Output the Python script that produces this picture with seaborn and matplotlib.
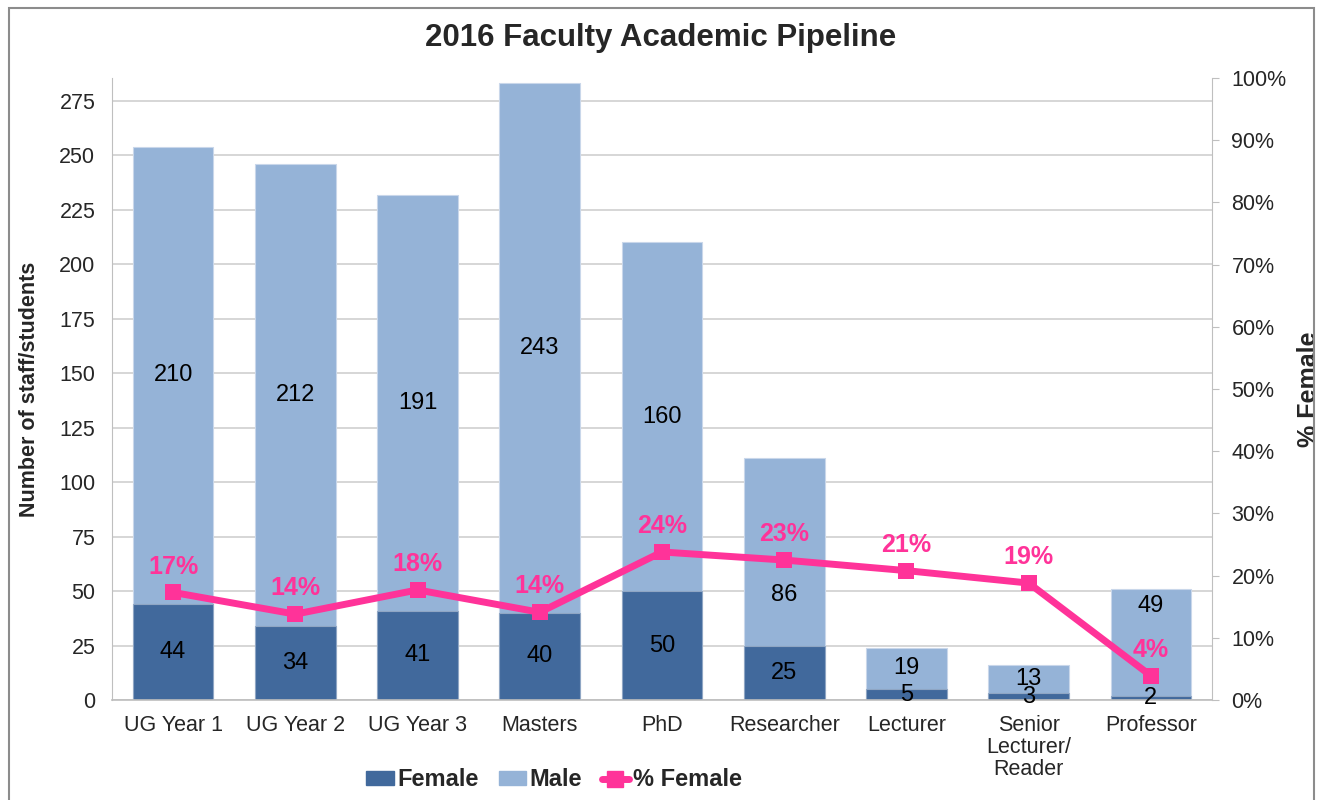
import numpy as np
import pandas as pd
import matplotlib
matplotlib.use('Agg')
import matplotlib.pyplot as plt
from matplotlib.patches import Rectangle, Patch
from matplotlib.lines import Line2D
from matplotlib.ticker import PercentFormatter
import seaborn as sns

# Dados
categorias = ['UG Year 1', 'UG Year 2', 'UG Year 3', 'Masters', 'PhD',
              'Researcher', 'Lecturer', 'Senior\nLecturer/\nReader', 'Professor']
feminino = [44, 34, 41, 40, 50, 25, 5, 3, 2]
masculino = [210, 212, 191, 243, 160, 86, 19, 13, 49]
pct_feminino = [17.3, 13.8, 17.7, 14.1, 23.8, 22.5, 20.8, 18.8, 3.9]
pct_rotulos = ['17%', '14%', '18%', '14%', '24%', '23%', '21%', '19%', '4%']

cor_fem = '#41699C'
cor_masc = '#95B3D7'
cor_rosa = '#FF3399'
cinza = '#BFBFBF'

# rótulos deslocados manualmente no original (para não colidir com a linha)
pos_rotulo_masc = {'Researcher': 48, 'Professor': 43}

df = pd.DataFrame({'Categoria': categorias, 'Female': feminino, 'Male': masculino})
df['Total'] = df['Female'] + df['Male']

sns.set_style('white')
plt.rcParams['font.family'] = ['Liberation Sans', 'DejaVu Sans']

fig = plt.figure(figsize=(13.2, 8), dpi=100)
ax = fig.add_axes([112 / 1320, 100 / 800, 1100 / 1320, 622 / 800])

# Barras empilhadas: total (claro) e feminino (escuro) por cima
sns.barplot(data=df, x='Categoria', y='Total', color=cor_masc, width=0.66,
            saturation=1, ax=ax, edgecolor='#C9D7EA', linewidth=0.8)
sns.barplot(data=df, x='Categoria', y='Female', color=cor_fem, width=0.66,
            saturation=1, ax=ax, edgecolor='#8FA6C4', linewidth=0.8)

ax.set_xlim(-0.5, len(categorias) - 0.5)
ax.set_ylim(0, 285.5)
ax.set_yticks(range(0, 276, 25))
ax.yaxis.grid(True, color='#CFCFCF', linewidth=1.2)
ax.set_axisbelow(True)
ax.set_xlabel('')
ax.set_ylabel('Number of staff/students', fontsize=15.5, fontweight='bold', labelpad=14)
ax.tick_params(axis='y', labelsize=15.5, length=0, pad=12)
ax.tick_params(axis='x', labelsize=15.5, length=0, pad=11)
for lbl in ax.get_xticklabels():
    lbl.set_linespacing(1.05)
for s in ['top', 'right']:
    ax.spines[s].set_visible(False)
ax.spines['left'].set_color(cinza)
ax.spines['bottom'].set_color('#BDBDBD')
ax.spines['bottom'].set_linewidth(1.2)

# Rótulos dos valores
for i, (c, f, m) in enumerate(zip(categorias, feminino, masculino)):
    ax.text(i, f / 2, str(f), ha='center', va='center', fontsize=17, color='black')
    y_m = pos_rotulo_masc.get(c, f + m / 2)
    ax.text(i, y_m, str(m), ha='center', va='center', fontsize=17, color='black')

# Linha de % feminino no eixo secundário
ax2 = ax.twinx()
x_pos = np.arange(len(categorias))
sns.lineplot(x=x_pos, y=np.array(pct_feminino) / 100, ax=ax2, color=cor_rosa,
             linewidth=5, marker='s', markersize=12, markeredgewidth=0)
ax2.set_ylim(0, 1)
ax2.set_yticks(np.arange(0, 1.01, 0.1))
ax2.yaxis.set_major_formatter(PercentFormatter(1.0, decimals=0))
ax2.tick_params(axis='y', labelsize=15.5, length=5, color=cinza, pad=9)
ax2.set_ylabel('% Female', fontsize=18, fontweight='bold')
ax2.yaxis.set_label_coords((1297 - 112) / 1100, 0.5)
for s in ['top', 'left', 'bottom']:
    ax2.spines[s].set_visible(False)
ax2.spines['right'].set_color(cinza)
ax2.set_xlim(-0.5, len(categorias) - 0.5)

for i, (p, r) in enumerate(zip(pct_feminino, pct_rotulos)):
    ax2.annotate(r, (i, p / 100), xytext=(0, 10), textcoords='offset points',
                 ha='center', va='bottom', fontsize=18, fontweight='bold', color=cor_rosa)

fig.text(661 / 1320, 1 - 38 / 800, '2016 Faculty Academic Pipeline', ha='center',
         va='center', fontsize=22.5, fontweight='bold')

handles = [Patch(color=cor_fem), Patch(color=cor_masc),
           Line2D([0], [0], color=cor_rosa, linewidth=5, marker='s', markersize=11)]
fig.legend(handles, ['Female', 'Male', '% Female'], loc='center',
           bbox_to_anchor=(554 / 1320, 1 - 780 / 800), ncol=3, frameon=False,
           prop={'size': 17, 'weight': 'bold'}, handlelength=1.15, handleheight=0.55,
           handletextpad=0.15, columnspacing=0.85)

# Moldura externa
fig.patches.append(Rectangle((9 / 1320, -0.01), 1305 / 1320, 1.01 - 8 / 800,
                             transform=fig.transFigure, fill=False,
                             edgecolor='#8C8C8C', linewidth=1.5))

fig.savefig('out.png', dpi=100)
